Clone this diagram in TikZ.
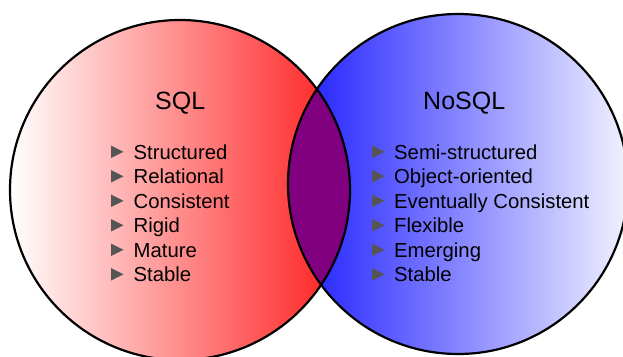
\documentclass[tikz,border=0pt]{standalone}
\usepackage{fontspec}
\setmainfont{Liberation Sans}
\definecolor{sqlred}{RGB}{255,25,25}
\definecolor{nosqlblue}{RGB}{25,25,255}
\definecolor{nosqlwhite}{RGB}{242,242,255}
\definecolor{overlap}{RGB}{128,0,128}
\definecolor{bulletgrey}{RGB}{85,85,85}
\begin{document}
\begin{tikzpicture}[x=1pt,y=-1pt,
  title/.style={anchor=base west, inner sep=0pt, font=\fontsize{25}{30}\selectfont},
  item/.style={anchor=base west, inner sep=0pt, font=\fontsize{20.3}{24}\selectfont},
  bullet/.style={fill=bulletgrey},
  outline/.style={draw=black, line width=2.2pt}]
\useasboundingbox (0,0) rectangle (623,356);
\clip (0,0) rectangle (623,356);
% circles
\coordinate (lc) at (180,190);
\coordinate (rc) at (458,184);
\shade[left color=white, right color=sqlred] (lc) circle[radius=170];
\shade[left color=nosqlblue, right color=nosqlwhite] (rc) circle[radius=170];
\begin{scope}
  \clip (lc) circle[radius=170];
  \fill[overlap] (rc) circle[radius=170];
\end{scope}
\draw[outline] (lc) circle[radius=170];
\draw[outline] (rc) circle[radius=170];
% titles
\node[title] (sql) at (155,109.3) {SQL};
\node[title] (nosql) at (423,109.3) {NoSQL};
% bullets
\foreach \yy in {159,183.5,208,232.5,257,281.5}{
  \fill[bullet] (111,\yy-13.5) -- (123.5,\yy-7.25) -- (111,\yy-1) -- cycle;
  \fill[bullet] (372,\yy-13.5) -- (384.5,\yy-7.25) -- (372,\yy-1) -- cycle;
}
% SQL items
\node[item] (s1) at (133.5,159) {Structured};
\node[item] (s2) at (133.5,183.5) {Relational};
\node[item] (s3) at (133.5,208) {Consistent};
\node[item] (s4) at (133.5,232.5) {Rigid};
\node[item] (s5) at (133.5,257) {Mature};
\node[item] (s6) at (133.5,281.5) {Stable};
% NoSQL items
\node[item] (n1) at (394,159) {Semi-structured};
\node[item] (n2) at (394,183.5) {Object-oriented};
\node[item] (n3) at (394,208) {Eventually Consistent};
\node[item] (n4) at (394,232.5) {Flexible};
\node[item] (n5) at (394,257) {Emerging};
\node[item] (n6) at (394,281.5) {Stable};
\end{tikzpicture}
\end{document}
